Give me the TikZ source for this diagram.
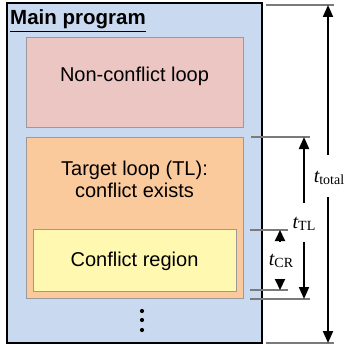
\documentclass[tikz,border=0pt]{standalone}
\usepackage{fontspec}
\setmainfont{Liberation Sans}
\newfontfamily\timesfont{Liberation Serif}
\usetikzlibrary{arrows.meta}

\definecolor{progblue}{HTML}{C9DAF0}
\definecolor{looppink}{HTML}{EBC6C3}
\definecolor{looporange}{HTML}{FBCA9C}
\definecolor{regionyellow}{HTML}{FFF8B0}
\definecolor{boxgray}{HTML}{9A9A9A}
\definecolor{tickgray}{HTML}{7A7A7A}

% time symbol t with an upright subscript, set in a Times-like face
\newcommand\timelabel[1]{{\timesfont\fontsize{20}{20}\selectfont\itshape t}\raisebox{-0.4ex}{\timesfont\fontsize{14}{14}\selectfont #1}}

\tikzset{
  region/.style={draw=boxgray, line width=0.8pt, anchor=north west, inner sep=0pt},
  bodytext/.style={font=\fontsize{20}{21.5}\selectfont, align=center, inner sep=0pt},
  tick/.style={draw=tickgray, line width=1.1pt},
  dimarrow/.style={line width=2pt, -{Triangle[width=10pt,length=12pt]}},
  smallarrow/.style={line width=2pt, -{Triangle[width=10pt,length=11pt]}},
}

\begin{document}
\begin{tikzpicture}[x=1pt,y=-1pt]
\useasboundingbox (0,0) rectangle (345,350);

% main program frame
\draw[fill=progblue, line width=1.8pt] (7,3) rectangle (262,343);
\node[anchor=base west, inner sep=0pt, font=\fontsize{20.5}{22}\selectfont\bfseries] (title) at (10,25) {\underline{Main program}};

% loop regions
\node[region, fill=looppink, minimum width=217pt, minimum height=90pt] (ncl) at (26,37) {};
\node[bodytext] (ncltext) at (134.5,76) {Non-conflict loop};

\node[region, fill=looporange, minimum width=217pt, minimum height=161pt] (tl) at (26,137) {};
\node[bodytext] (tltext) at (134.5,179.5) {Target loop (TL):\\conflict exists};

\node[region, fill=regionyellow, minimum width=203pt, minimum height=62pt] (cr) at (33,229) {};
\node[bodytext] (crtext) at (134.5,261.5) {Conflict region};

% continuation dots
\foreach \yy [count=\i] in {311,320,330}
  \fill (142,\yy) circle (2.1pt) coordinate (dot\i);

% extent ticks
\coordinate (tA1) at (266,5);   \coordinate (tA2) at (334,5);
\coordinate (tB1) at (251,137); \coordinate (tB2) at (310,137);
\coordinate (tC1) at (250,230); \coordinate (tC2) at (288,230);
\coordinate (tD1) at (250,290); \coordinate (tD2) at (288,290);
\coordinate (tE1) at (250,299); \coordinate (tE2) at (310,299);
\coordinate (tF1) at (266,343); \coordinate (tF2) at (334,343);
\foreach \k in {A,B,C,D,E,F} \draw[tick] (t\k1) -- (t\k2);

% total time
\node[inner sep=0pt] (ttotal) at (329,178) {\timelabel{total}};
\coordinate (totTop) at (328,5);
\coordinate (totBot) at (328,343);
\coordinate (totS1) at (328,155);
\coordinate (totS2) at (328,197);
\draw[dimarrow] (totS1) -- (totTop);
\draw[dimarrow] (totS2) -- (totBot);

% target loop time
\node[inner sep=0pt] (ttl) at (304,224) {\timelabel{TL}};
\coordinate (tlTop) at (304,137);
\coordinate (tlBot) at (304,299);
\coordinate (tlS1) at (304,203);
\coordinate (tlS2) at (304,242);
\draw[dimarrow] (tlS1) -- (tlTop);
\draw[dimarrow] (tlS2) -- (tlBot);

% conflict region time
\node[inner sep=0pt] (tcr) at (281,261) {\timelabel{CR}};
\coordinate (crTop) at (280,230);
\coordinate (crBot) at (280,290);
\coordinate (crS1) at (280,241);
\coordinate (crS2) at (280,279);
\draw[smallarrow] (crS1) -- (crTop);
\draw[smallarrow] (crS2) -- (crBot);
\end{tikzpicture}
\end{document}
